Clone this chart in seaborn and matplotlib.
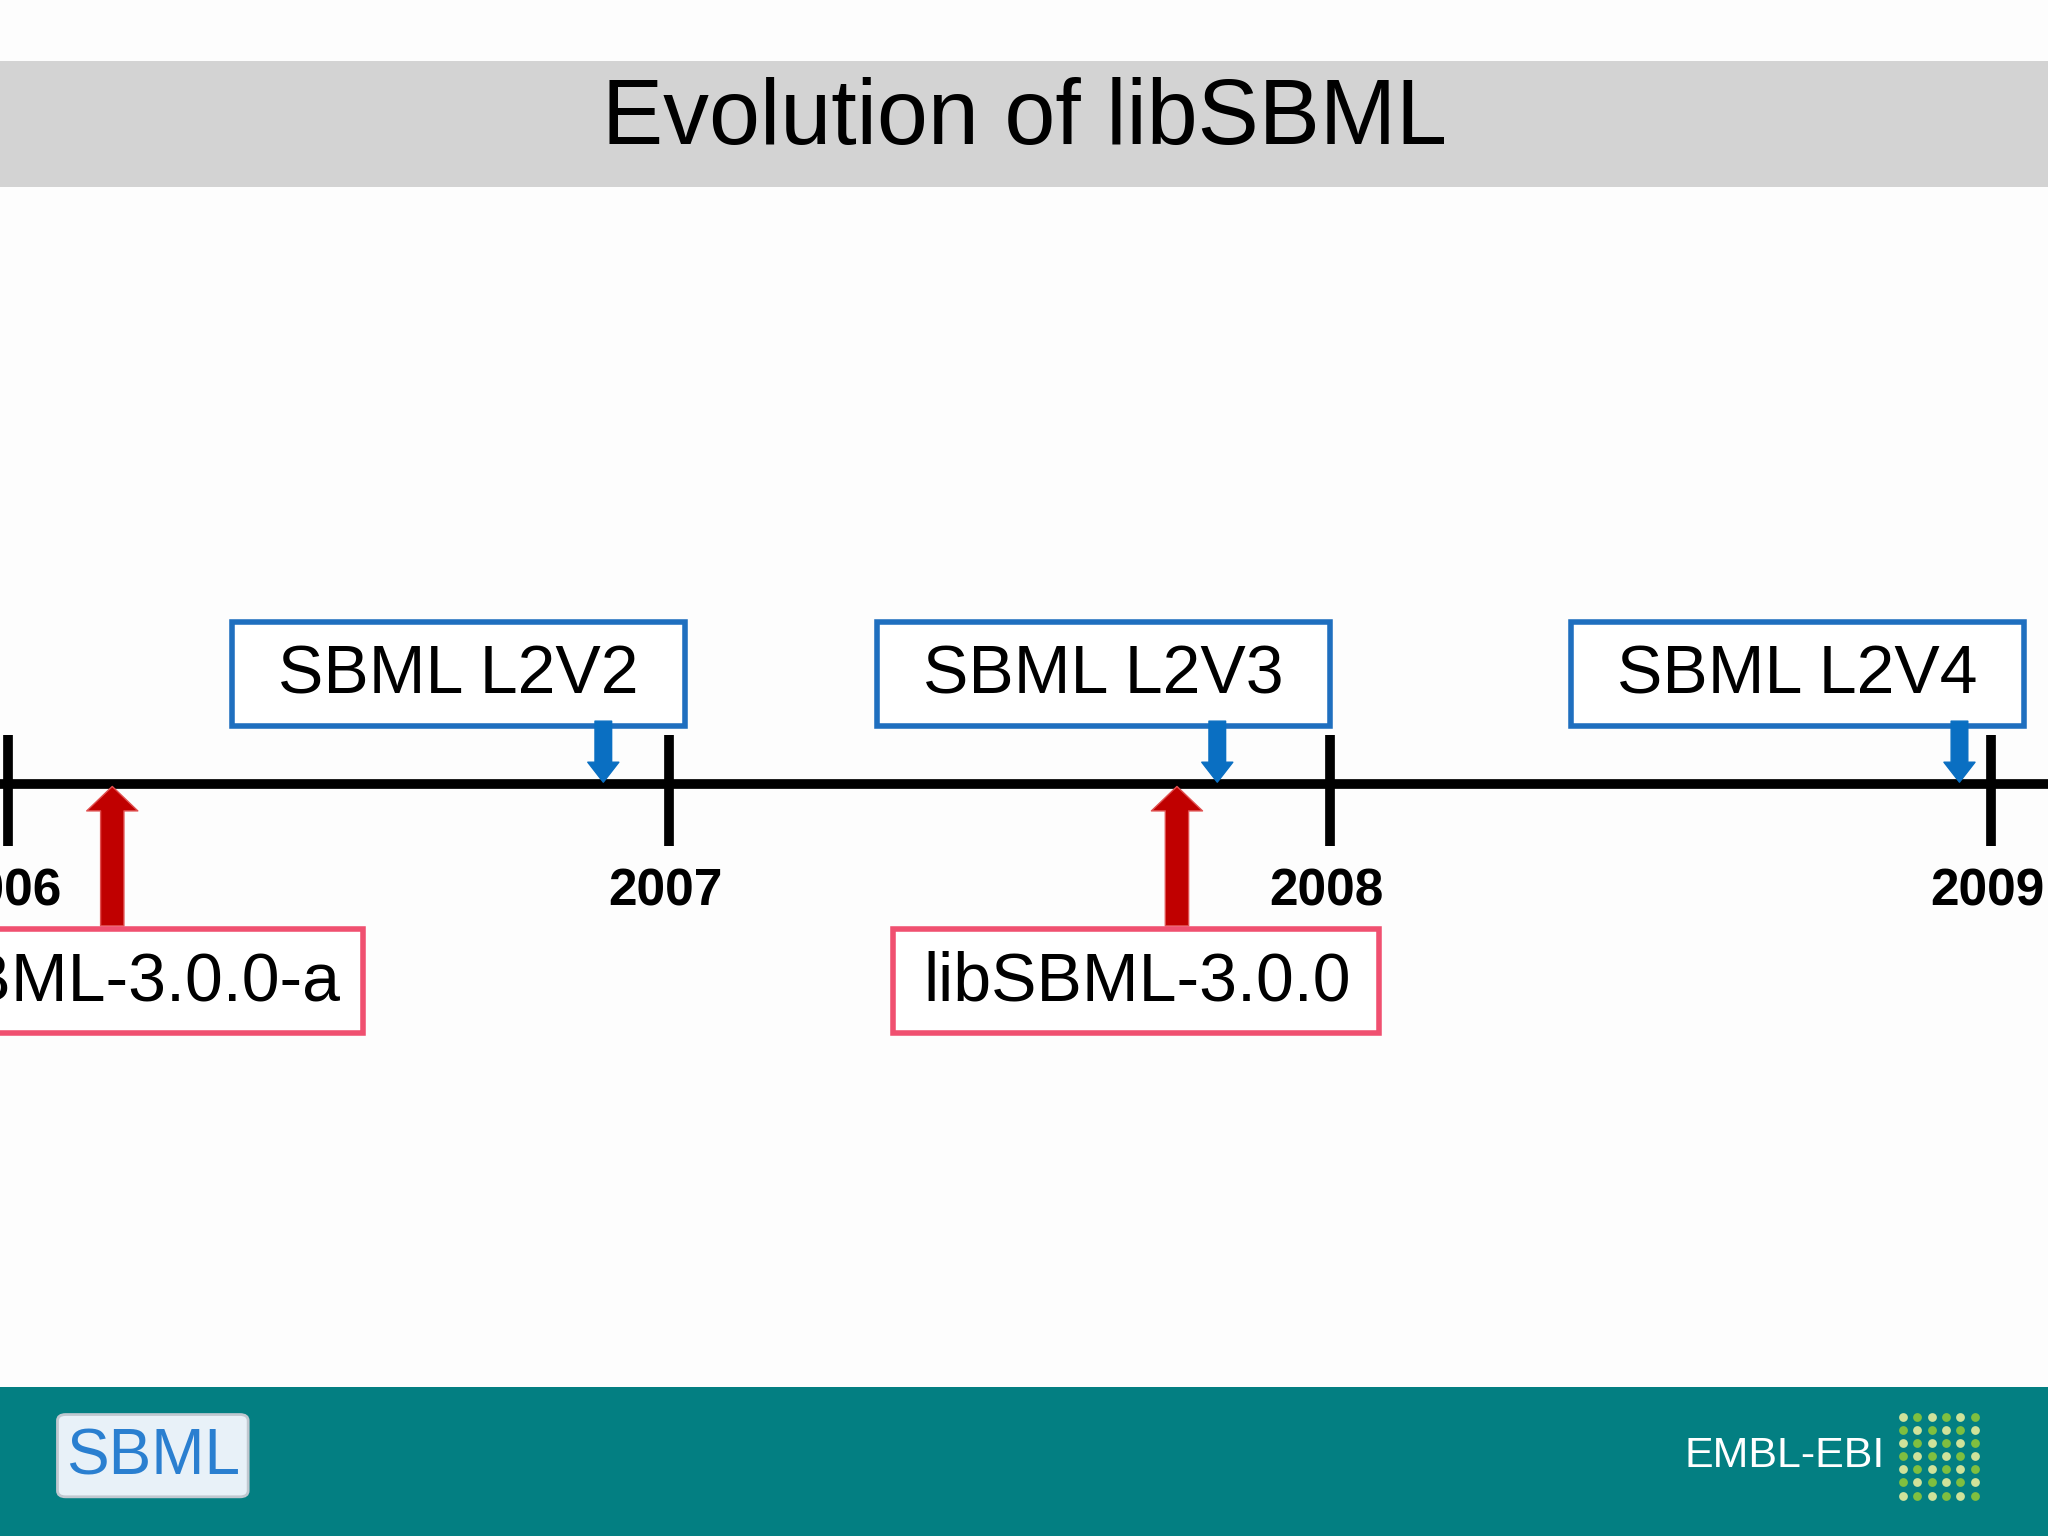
import matplotlib.pyplot as plt
import matplotlib.patches as mpatches
import seaborn as sns
import pandas as pd

# timeline data (x in years)
tick_years = [2006, 2007, 2008, 2009]
tick_labels = ["2006", "2007", "2008", "2009"]

spec_names = ["SBML L2V2", "SBML L2V3", "SBML L2V4"]
spec_dates = [2006.901, 2007.830, 2008.953]
spec_box_centers = [2006.682, 2007.658, 2008.708]

lib_names = ["libSBML-3.0.0-a", "libSBML-3.0.0"]
lib_dates = [2006.158, 2007.769]
lib_text_centers = [2006.134, 2007.708]
lib_box_left = [2005.5, 2007.340]
lib_box_right = [2006.538, 2008.075]

sns.set_theme(style="white")
plt.rcParams['font.family'] = ['Liberation Sans', 'DejaVu Sans']

W, H = 1568, 1176
px_per_year = 506.0
x0 = 2006 - 6 / px_per_year
x1 = x0 + W / px_per_year

fig = plt.figure(figsize=(20.48, 15.36), dpi=100, facecolor="#fdfdfd")
ax = fig.add_axes([0, 0, 1, 1])
ax.set_facecolor("#fdfdfd")
ax.set_xlim(x0, x1)
ax.set_ylim(H, 0)
ax.axis("off")

def fx(px):
    return px / W

def fy(py):
    return 1 - py / H

# header
ax.add_patch(mpatches.Rectangle((0, fy(143)), 1, (143 - 47) / H, transform=ax.transAxes,
                                color="#d3d3d3", lw=0))
ax.text(0.5, fy(92), "Evolution of libSBML", transform=ax.transAxes, ha="center",
        va="center", fontsize=66, color="black")

# footer
ax.add_patch(mpatches.Rectangle((0, 0), 1, (H - 1062) / H, transform=ax.transAxes,
                                color="#037f82", lw=0))
ax.add_patch(mpatches.FancyBboxPatch((fx(44), fy(1146)), (190 - 44) / W, 63 / H,
                                     boxstyle="round,pad=0,rounding_size=0.004",
                                     transform=ax.transAxes, fc="#e8f1f8", ec="#c0c8d0", lw=2))
ax.text(fx(117), fy(1116), "SBML", transform=ax.transAxes, ha="center", va="center",
        fontsize=46, color="#2a7fd0")
ax.text(fx(1443), fy(1115), "EMBL-EBI", transform=ax.transAxes, ha="right", va="center",
        fontsize=31, color="white")
for i, dy in enumerate(range(-30, 31, 10)):
    for j, dx in enumerate(range(-28, 29, 11)):
        c = "#7fbf3f" if (i + j) % 2 else "#cfe29a"
        ax.scatter([fx(1485 + dx)], [fy(1115 + dy)], transform=ax.transAxes, s=40, color=c, lw=0)

# timeline
line_df = pd.DataFrame({"year": [x0, x1], "y": [600, 600]})
sns.lineplot(data=line_df, x="year", y="y", ax=ax, color="black", lw=7)
ax.vlines(tick_years, 563, 648, color="black", lw=7)
for yr, lab in zip(tick_years, tick_labels):
    ax.text(yr - 0.005, 683, lab, ha="center", va="center", fontsize=37, fontweight="bold",
            color="black")

blue_w = 347 / px_per_year

# spec releases (blue)
for name, d, c in zip(spec_names, spec_dates, spec_box_centers):
    ax.add_patch(mpatches.Rectangle((c - blue_w / 2, 476), blue_w, 80, fc="white",
                                    ec="#1f6fbf", lw=4, zorder=3))
    ax.text(c, 517, name, ha="center", va="center", fontsize=49, color="black", zorder=4)
    ax.annotate("", xy=(d, 601), xytext=(d, 550),
                arrowprops=dict(arrowstyle="simple,head_width=1.4,head_length=0.9,tail_width=0.75",
                                fc="#0a6fc2", ec="#0a6fc2", mutation_scale=16), zorder=5)

# libSBML releases (red)
for name, d, c, bl, br in zip(lib_names, lib_dates, lib_text_centers, lib_box_left, lib_box_right):
    ax.annotate("", xy=(d, 600), xytext=(d, 711),
                arrowprops=dict(arrowstyle="simple,head_width=2.3,head_length=1.1,tail_width=1.05",
                                fc="#c00000", ec="#e05050", mutation_scale=16))
    ax.add_patch(mpatches.Rectangle((bl, 711), br - bl, 80, fc="white",
                                    ec="#f05070", lw=4, zorder=3))
    ax.text(c, 752, name, ha="center", va="center", fontsize=49, color="black", zorder=4)

fig.savefig("out.png", dpi=100, facecolor=fig.get_facecolor())
